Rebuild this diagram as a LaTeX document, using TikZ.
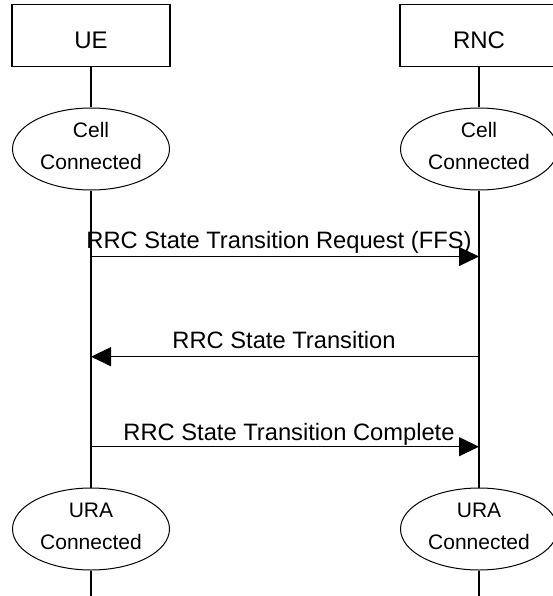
\documentclass[tikz,border=0pt]{standalone}
\usepackage{fontspec}
\setmainfont{Liberation Sans}
\usetikzlibrary{shapes.geometric,arrows.meta}

\begin{document}
\begin{tikzpicture}[x=1pt,y=-1pt,
  blok/.style={draw,line width=1.2pt,minimum width=158pt,minimum height=62pt,inner sep=0pt,
    text height=27pt,text depth=0pt,font=\fontsize{24}{28}\selectfont},
  sost/.style={draw,ellipse,line width=1pt,minimum width=157pt,minimum height=82pt,inner sep=0pt,
    text depth=6pt,align=center,font=\fontsize{21}{32}\selectfont},
  zhizn/.style={line width=1.2pt},
  soob/.style={line width=1.2pt,-{Triangle[length=20pt,width=19pt]}},
  podp/.style={anchor=base,inner sep=0pt,font=\fontsize{23.7}{28}\selectfont}]
\useasboundingbox (0,0) rectangle (553,596);
%Участники обмена
\node[blok] (ue) at (91,35.5) {UE};
\node[blok] (rnc) at (479,35.5) {RNC};
%Начальные состояния
\node[sost] (ueCell) at (91,149) {Cell\\Connected};
\node[sost] (rncCell) at (479,149) {Cell\\Connected};
%Конечные состояния
\node[sost] (ueUra) at (91,529) {URA\\Connected};
\node[sost] (rncUra) at (479,529) {URA\\Connected};
%Линии жизни
\coordinate (ueEnd) at (91,596);
\coordinate (rncEnd) at (479,596);
\draw[zhizn] (ue)--(ueCell)--(ueUra)--(ueEnd);
\draw[zhizn] (rnc)--(rncCell)--(rncUra)--(rncEnd);
%Точки сообщений на линиях жизни
\coordinate (ueA) at (91,256.5);  \coordinate (rncA) at (479,256.5);
\coordinate (ueB) at (91,356.7);  \coordinate (rncB) at (479,356.7);
\coordinate (ueC) at (91,446.7);  \coordinate (rncC) at (479,446.7);
%Сообщения
\draw[soob] (ueA)--(rncA);
\node[podp] (zapros) at (279,248.3) {RRC State Transition Request (FFS)};
\draw[soob] (rncB)--(ueB);
\node[podp] (perehod) at (284,348.3) {RRC State Transition};
\draw[soob] (ueC)--(rncC);
\node[podp] (gotovo) at (289,440.7) {RRC State Transition Complete};%подтверждение
\end{tikzpicture}
\end{document}
